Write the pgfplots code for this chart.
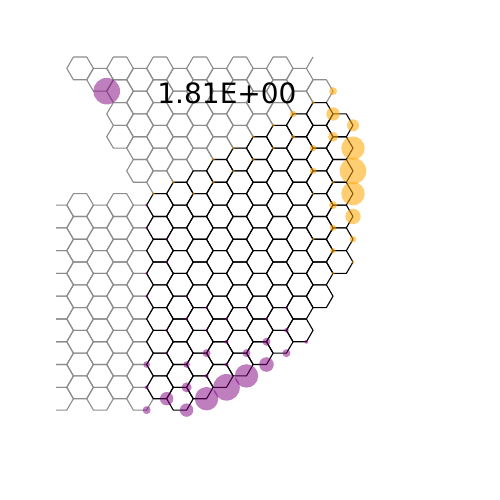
\documentclass[border=0pt]{standalone}
\usepackage{fontspec}
\setmainfont{DejaVu Sans}
\usepackage{pgfplots}
\pgfplotsset{compat=1.18}
\definecolor{morange}{HTML}{FFA500}
\definecolor{mpurple}{HTML}{800080}
\definecolor{lgray}{HTML}{8C8C8C}
\pgfdeclareplotmark{hexa}{%
 \pgfpathmoveto{\pgfqpoint{13.312pt}{0pt}}%
 \pgfpathlineto{\pgfqpoint{6.656pt}{11.39pt}}%
 \pgfpathlineto{\pgfqpoint{-6.656pt}{11.39pt}}%
 \pgfpathlineto{\pgfqpoint{-13.312pt}{0pt}}%
 \pgfpathlineto{\pgfqpoint{-6.656pt}{-11.39pt}}%
 \pgfpathlineto{\pgfqpoint{6.656pt}{-11.39pt}}%
 \pgfpathclose\pgfusepathqstroke}
\pgfplotstableread[row sep=\\]{u k\\
-3 14\\ -3 16\\ -3 18\\ -3 20\\ -3 22\\ -3 24\\ -3 26\\ -3 28\\ -3 30\\
0 1\\ 0 13\\ 0 15\\ 0 17\\ 0 19\\ 0 21\\ 0 23\\ 0 25\\ 0 27\\ 0 29\\
3 2\\ 3 14\\ 3 16\\ 3 18\\ 3 20\\ 3 22\\ 3 24\\ 3 26\\ 3 28\\ 3 30\\
6 1\\ 6 3\\ 6 5\\ 6 7\\ 6 13\\ 6 15\\ 6 17\\ 6 19\\ 6 21\\ 6 23\\ 6 25\\ 6 27\\ 6 29\\
9 2\\ 9 4\\ 9 6\\ 9 8\\ 9 10\\ 9 14\\ 9 16\\ 9 18\\ 9 20\\ 9 22\\ 9 24\\ 9 26\\ 9 28\\ 9 30\\
12 1\\ 12 3\\ 12 5\\ 12 7\\ 12 9\\ 12 11\\
15 2\\ 15 4\\ 15 6\\ 15 8\\ 15 10\\
18 1\\ 18 3\\ 18 5\\ 18 7\\ 18 9\\
21 2\\ 21 4\\ 21 6\\ 21 8\\
24 1\\ 24 3\\ 24 5\\ 24 7\\
27 2\\ 27 4\\ 27 6\\
30 1\\ 30 3\\ 30 5\\
33 2\\ 33 4\\
36 3\\
}\grayhex
\pgfplotstableread[row sep=\\]{u k\\
12 13\\ 12 15\\ 12 17\\ 12 19\\ 12 21\\ 12 23\\ 12 25\\ 12 27\\ 12 29\\
15 12\\ 15 14\\ 15 16\\ 15 18\\ 15 20\\ 15 22\\ 15 24\\ 15 26\\ 15 28\\ 15 30\\
18 11\\ 18 13\\ 18 15\\ 18 17\\ 18 19\\ 18 21\\ 18 23\\ 18 25\\ 18 27\\ 18 29\\
21 10\\ 21 12\\ 21 14\\ 21 16\\ 21 18\\ 21 20\\ 21 22\\ 21 24\\ 21 26\\ 21 28\\
24 9\\ 24 11\\ 24 13\\ 24 15\\ 24 17\\ 24 19\\ 24 21\\ 24 23\\ 24 25\\ 24 27\\
27 8\\ 27 10\\ 27 12\\ 27 14\\ 27 16\\ 27 18\\ 27 20\\ 27 22\\ 27 24\\ 27 26\\
30 7\\ 30 9\\ 30 11\\ 30 13\\ 30 15\\ 30 17\\ 30 19\\ 30 21\\ 30 23\\ 30 25\\
33 6\\ 33 8\\ 33 10\\ 33 12\\ 33 14\\ 33 16\\ 33 18\\ 33 20\\ 33 22\\ 33 24\\
36 5\\ 36 7\\ 36 9\\ 36 11\\ 36 13\\ 36 15\\ 36 17\\ 36 19\\ 36 21\\
39 6\\ 39 8\\ 39 10\\ 39 12\\ 39 14\\ 39 16\\ 39 18\\
}\blackhex
\pgfplotstableread[row sep=\\]{u k r\\
38 3 4\\ 32 5 3.3\\ 38 5 6.7\\ 41 6 6\\ 38 7 5\\ 41 8 11.7\\ 35 8 3.3\\
41 10 13.3\\ 35 10 3.3\\ 41 12 11.7\\ 38 13 4\\ 41 14 7.7\\ 38 15 3.3\\
41 16 3.3\\ 38 17 2.7\\ 41 18 1.7\\ 35 4 1.7\\ 29 6 1.6\\ 26 7 1.6\\
32 7 2\\ 23 8 1.6\\ 29 8 1.6\\ 20 9 1.6\\ 26 9 1.6\\ 23 10 1.5\\
14 11 1.6\\ 20 11 1.6\\ 11 12 1.6\\ 17 12 1.5\\ 38 11 1.6\\ 35 16 1.5\\
38 19 1.6\\ 35 12 1.3\\
}\orangepts
\pgfplotstableread[row sep=\\]{u k r\\
4 3 13.3\\ 10 31 4\\ 13 30 6.7\\ 16 31 6.7\\ 19 30 11.7\\ 22 29 13.3\\
25 28 11.7\\ 28 27 7.3\\ 31 26 4\\ 16 29 5\\ 10 27 3.3\\ 16 27 3.3\\
19 26 4\\ 25 26 4\\ 28 25 4\\ 10 29 2\\ 22 27 2\\ 19 28 2\\ 22 25 2\\
31 24 2.3\\ 34 25 2\\ 19 24 1.6\\ 13 26 1.6\\ 13 24 1.6\\ 16 23 1.6\\
22 23 1.6\\ 28 23 1.6\\ 10 21 1.6\\ 16 21 1.5\\ 13 18 1.5\\ 10 19 1.5\\
19 22 1.5\\ 25 22 1.5\\ 31 22 1.5\\ 10 13 1.5\\ 10 15 1.5\\ 13 16 1.3\\
}\purplepts
\begin{document}
\begin{tikzpicture}
\useasboundingbox (0,0) rectangle (500pt,500pt);
\begin{axis}[at={(56pt,443.91pt)}, anchor=north west,
  x=6.656pt, y=11.39pt, y dir=reverse,
  xmin=-3.62, xmax=63.09, ymin=-0.08, ymax=38.9,
  hide axis, clip=true, clip marker paths=true]
\addplot[only marks, mark=hexa, draw=lgray, line width=1.1pt, line join=round] table[x=u,y=k] {\grayhex};
\addplot[lgray, line width=1.1pt, no marks] coordinates {(35,0) (34,1)};
\addplot[only marks, mark=hexa, draw=black, line width=1.1pt, line join=round] table[x=u,y=k] {\blackhex};
\addplot[scatter, only marks, mark=*,
  scatter/use mapped color={draw=morange, draw opacity=0, fill=morange, fill opacity=0.55},
  mark options={draw opacity=0},
  point meta=\thisrow{r},
  visualization depends on={\thisrow{r} \as \rr},
  scatter/@pre marker code/.append style={/tikz/mark size=\rr}]
  table[x=u,y=k] {\orangepts};
\addplot[scatter, only marks, mark=*,
  scatter/use mapped color={draw=mpurple, draw opacity=0, fill=mpurple, fill opacity=0.5},
  mark options={draw opacity=0},
  point meta=\thisrow{r},
  visualization depends on={\thisrow{r} \as \rr},
  scatter/@pre marker code/.append style={/tikz/mark size=\rr}]
  table[x=u,y=k] {\purplepts};
\end{axis}
\node[font=\fontsize{28}{34}\selectfont, inner sep=0pt] at (227pt,407pt) {1.81E+00};
\end{tikzpicture}
\end{document}
